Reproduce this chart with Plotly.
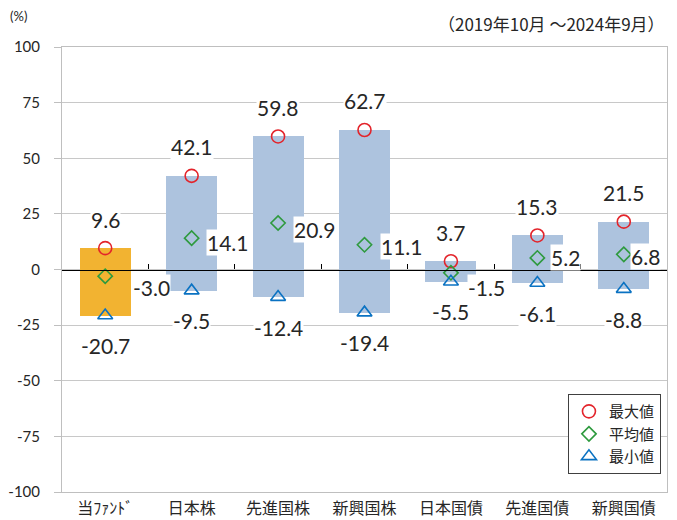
import plotly.graph_objects as go

categories = ["当ﾌｧﾝﾄﾞ", "日本株", "先進国株", "新興国株", "日本国債", "先進国債", "新興国債"]
max_vals = [9.6, 42.1, 59.8, 62.7, 3.7, 15.3, 21.5]
avg_vals = [-3.0, 14.1, 20.9, 11.1, -1.5, 5.2, 6.8]
min_vals = [-20.7, -9.5, -12.4, -19.4, -5.5, -6.1, -8.8]
y_ticks = [100, 75, 50, 25, 0, -25, -50, -75, -100]
bar_colors = ["#F2B331"] + ["#ADC3DE"] * 6

# pixel nudges of the average-value labels (as placed in the reference)
avg_label_dx = [27, 14, 15, 15, 16, 13, 6]
avg_label_dy = [-11, -4, -6, -2, -15, 0, -2]

FONT = "Lato, 'Noto Sans CJK JP', sans-serif"
CJK = "'Noto Sans CJK JP', sans-serif"
TXT = "#262626"

fig = go.Figure()

fig.add_trace(go.Bar(
    x=categories,
    y=[mx - mn for mx, mn in zip(max_vals, min_vals)],
    base=min_vals,
    marker=dict(color=bar_colors, line=dict(width=0)),
    width=0.59,
    showlegend=False,
    hoverinfo="skip",
))

fig.add_trace(go.Scatter(
    x=categories, y=max_vals, mode="markers", name="最大値",
    marker=dict(symbol="circle-open", size=13, color="#E3242B", line=dict(width=1.6)),
))
fig.add_trace(go.Scatter(
    x=categories, y=avg_vals, mode="markers", name="平均値",
    marker=dict(symbol="diamond-open", size=11, color="#2E9A3E", line=dict(width=1.6)),
))
fig.add_trace(go.Scatter(
    x=categories, y=min_vals, mode="markers", name="最小値",
    marker=dict(symbol="triangle-up-open", size=13, color="#0A72C2", line=dict(width=1.6)),
))

# invisible trace to render the zero-line axis with boundary ticks
fig.add_trace(go.Scatter(
    x=categories, y=avg_vals, xaxis="x2", mode="markers",
    marker=dict(opacity=0), showlegend=False, hoverinfo="skip",
))

annotations = []
for c, mx, av, mn, dx, dy in zip(categories, max_vals, avg_vals, min_vals, avg_label_dx, avg_label_dy):
    annotations.append(dict(x=c, y=mx, text=f"{mx:.1f}", showarrow=False, yshift=29,
                            font=dict(size=21, color=TXT, family=FONT), bgcolor="white", borderpad=0))
    annotations.append(dict(x=c, y=mn, text=f"{mn:.1f}", showarrow=False, yshift=-30,
                            font=dict(size=21, color=TXT, family=FONT), bgcolor="white", borderpad=0))
    annotations.append(dict(x=c, y=av, text=f"{av:.1f}", showarrow=False, xanchor="left", xshift=dx, yshift=dy,
                            font=dict(size=21, color=TXT, family=FONT), bgcolor="white", borderpad=0))

annotations.append(dict(xref="paper", yref="paper", x=-0.089, y=1.07, xanchor="left", yanchor="middle",
                        text="(%)", showarrow=False, font=dict(size=13, color=TXT, family=FONT)))
annotations.append(dict(xref="paper", yref="paper", x=1.0, y=1.086, xanchor="right", yanchor="top",
                        text="（2019年10月 ～2024年9月）", showarrow=False,
                        font=dict(size=17, color=TXT, family=CJK)))

# page body has an 8px margin: size the figure so the plot lands where the reference has it
fig.update_layout(
    width=669, height=512,
    margin=dict(l=54, r=10, t=39, b=28),
    paper_bgcolor="white", plot_bgcolor="white",
    font=dict(family=FONT, color=TXT),
    bargap=0,
    xaxis=dict(
        type="category", range=[-0.5, 6.5], automargin=False,
        showline=True, linecolor="#BFBFBF", linewidth=1, mirror=True,
        ticks="", showgrid=False,
        tickfont=dict(size=16, family=CJK, color=TXT),
        ticklabelstandoff=2,
    ),
    xaxis2=dict(
        type="category", range=[-0.5, 6.5], overlaying="x", anchor="free", position=0.5,
        side="bottom", automargin=False,
        showline=True, linecolor="black", linewidth=1.3,
        ticks="inside", tickson="boundaries", ticklen=5, tickcolor="black", tickwidth=1,
        showticklabels=False, showgrid=False, zeroline=False,
    ),
    yaxis=dict(
        range=[-100, 100], automargin=False,
        tickvals=y_ticks, ticktext=[str(v) for v in y_ticks],
        showgrid=True, gridcolor="#C8C8C8", gridwidth=1,
        zeroline=False,
        showline=True, linecolor="#BFBFBF", linewidth=1, mirror=True,
        ticks="outside", ticklen=7, tickcolor="#BFBFBF",
        tickfont=dict(size=15, color=TXT, family=FONT),
        ticklabelstandoff=11,
    ),
    legend=dict(
        x=0.99, y=0.22, xanchor="right", yanchor="top",
        bgcolor="white", bordercolor="#404040", borderwidth=1,
        font=dict(size=15, family=CJK, color=TXT),
        itemwidth=30, tracegroupgap=0,
    ),
    annotations=annotations,
    showlegend=True,
)

fig.write_html("out.html")
